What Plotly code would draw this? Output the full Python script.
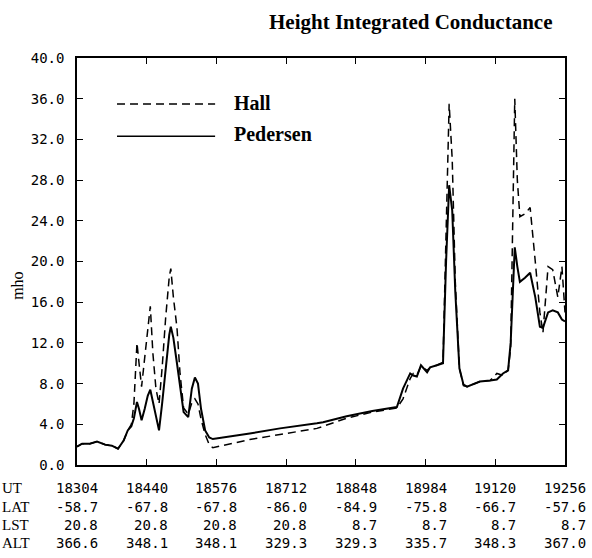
import plotly.graph_objects as go

# Universal time (s) of each sample
ut = [18304, 18314, 18329, 18343, 18359, 18372, 18384, 18395, 18403, 18410,
      18415, 18421, 18425, 18430, 18436, 18442, 18447, 18452, 18458, 18464,
      18470, 18477, 18484, 18487, 18492, 18499, 18505, 18512, 18521, 18528,
      18534, 18540, 18546, 18554, 18562, 18569, 18641, 18700, 18772, 18784,
      18830, 18880, 18928, 18940, 18954, 18960, 18967, 18975, 18987, 18993,
      19006, 19018, 19024, 19030, 19036, 19042, 19050, 19058, 19065, 19090,
      19110, 19123, 19135, 19145, 19150, 19158, 19163, 19168, 19178, 19188,
      19198, 19207, 19213, 19223, 19232, 19242, 19250, 19256]

# Height integrated Pedersen conductance (mho)
pedersen = [1.8, 2.1, 2.1, 2.3, 2.0, 1.9, 1.6, 2.4, 3.4, 3.8,
            4.6, 6.2, 5.5, 4.4, 5.5, 6.8, 7.4, 6.2, 4.5, 3.4,
            6.0, 9.5, 12.8, 13.6, 12.5, 10.0, 8.0, 5.2, 4.7, 7.5,
            8.6, 8.0, 5.5, 3.4, 2.7, 2.55, 3.1, 3.6, 4.1, 4.2,
            4.8, 5.3, 5.7, 7.5, 9.0, 8.8, 8.7, 9.8, 9.1, 9.6,
            9.8, 10.0, 20.0, 27.5, 25.0, 17.0, 9.5, 7.9, 7.7, 8.2,
            8.3, 8.4, 9.0, 9.3, 12.0, 21.4, 19.5, 18.0, 18.4, 18.9,
            16.5, 13.6, 13.5, 15.0, 15.2, 15.0, 14.3, 14.1]

# Height integrated Hall conductance (mho)
hall = [1.8, 2.1, 2.1, 2.3, 2.0, 1.9, 1.6, 2.4, 3.4, 4.0,
        6.0, 12.0, 10.0, 7.7, 10.5, 13.5, 15.6, 11.0, 7.5, 6.0,
        9.5, 14.5, 18.5, 19.3, 16.5, 13.5, 9.0, 5.6, 5.0, 6.1,
        6.5, 6.0, 4.5, 3.0, 2.0, 1.7, 2.5, 3.0, 3.6, 3.8,
        4.6, 5.2, 5.6, 6.5, 8.5, 9.0, 8.8, 9.7, 9.3, 9.6,
        9.8, 10.1, 24.0, 35.5, 30.0, 18.0, 9.5, 7.8, 7.7, 8.2,
        8.3, 9.0, 8.8, 9.3, 11.5, 36.0, 28.0, 24.4, 24.7, 25.3,
        20.0, 15.0, 13.0, 19.5, 19.2, 16.5, 19.5, 15.0]

# Orbit annotation table under the axis
ut_ticks = [18304, 18440, 18576, 18712, 18848, 18984, 19120, 19256]
lat_vals = ["-58.7", "-67.8", "-67.8", "-86.0", "-84.9", "-75.8", "-66.7", "-57.6"]
lst_vals = ["20.8", "20.8", "20.8", "20.8", "8.7", "8.7", "8.7", "8.7"]
alt_vals = ["366.6", "348.1", "348.1", "329.3", "329.3", "335.7", "348.3", "367.0"]

MONO = "DejaVu Sans Mono"
SERIF = "Liberation Serif"

fig = go.Figure()
fig.add_trace(go.Scatter(x=ut, y=hall, mode="lines", name="Hall",
                         line=dict(color="black", width=1.5, dash="8px,5px")))
fig.add_trace(go.Scatter(x=ut, y=pedersen, mode="lines", name="Pedersen",
                         line=dict(color="black", width=2)))

fig.update_layout(
    width=592, height=558,
    margin=dict(l=77, r=27, t=58, b=93),
    plot_bgcolor="white", paper_bgcolor="white",
    showlegend=False,
    xaxis=dict(range=[18304, 19256], tickvals=ut_ticks, showticklabels=False,
               ticks="inside", ticklen=6, tickcolor="black", showline=True,
               linecolor="black", linewidth=1.5, mirror="ticks", showgrid=False,
               zeroline=False),
    yaxis=dict(range=[0, 40], dtick=4, tickformat=".1f", ticks="inside",
               ticklen=6, tickcolor="black", showline=True, linecolor="black",
               linewidth=1.5, mirror="ticks", showgrid=False, zeroline=False,
               tickfont=dict(family=MONO, size=14, color="black"),
               ticklabelstandoff=8),
)

ann = []
# title
ann.append(dict(text="<b>Height Integrated Conductance</b>", xref="paper", yref="paper",
                x=0.684, y=1.088, xanchor="center", yanchor="middle", showarrow=False,
                font=dict(family=SERIF, size=21, color="black")))
# y axis label
ann.append(dict(text="mho", xref="paper", yref="paper", x=-0.121, y=0.44,
                textangle=-90, xanchor="center", yanchor="middle", showarrow=False,
                font=dict(family=SERIF, size=16, color="black")))
# legend labels
ann.append(dict(text="<b>Hall</b>", xref="paper", yref="paper", x=0.318, y=0.890,
                xanchor="left", yanchor="middle", showarrow=False,
                font=dict(family=SERIF, size=20, color="black")))
ann.append(dict(text="<b>Pedersen</b>", xref="paper", yref="paper", x=0.318, y=0.814,
                xanchor="left", yanchor="middle", showarrow=False,
                font=dict(family=SERIF, size=20, color="black")))

rows = [("UT", [str(v) for v in ut_ticks], 488),
        ("LAT", lat_vals, 507),
        ("LST", lst_vals, 525),
        ("ALT", alt_vals, 543)]
for label, vals, py in rows:
    ann.append(dict(text=label, xref="paper", yref="paper", x=-0.1578, y=0,
                    yshift=-(py - 465), xanchor="left", yanchor="middle",
                    showarrow=False, font=dict(family=SERIF, size=15, color="black")))
    for t, v in zip(ut_ticks, vals):
        ann.append(dict(text=v, xref="x", yref="paper", x=t, y=0,
                        xshift=23, yshift=-(py - 465), xanchor="right",
                        yanchor="middle", showarrow=False,
                        font=dict(family=MONO, size=14, color="black")))
fig.update_layout(annotations=ann)

# legend sample lines
fig.add_shape(type="line", xref="paper", yref="paper", x0=0.082, x1=0.283,
              y0=0.887, y1=0.887, line=dict(color="black", width=1.5, dash="8px,5px"))
fig.add_shape(type="line", xref="paper", yref="paper", x0=0.082, x1=0.283,
              y0=0.808, y1=0.808, line=dict(color="black", width=1.5))

fig.write_html("out.html")
